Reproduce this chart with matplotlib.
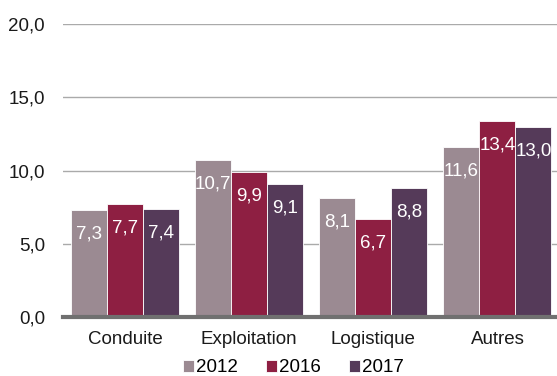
import numpy as np
import matplotlib.pyplot as plt

plt.rcParams["font.family"] = ["Liberation Sans", "DejaVu Sans"]

categories = ["Conduite", "Exploitation", "Logistique", "Autres"]
years = ["2012", "2016", "2017"]
v2012 = [7.3, 10.7, 8.1, 11.6]
v2016 = [7.7, 9.9, 6.7, 13.4]
v2017 = [7.4, 9.1, 8.8, 13.0]
colors = ["#9b8a92", "#8e1f42", "#553a59"]

fig = plt.figure(figsize=(5.57, 3.76), dpi=100)
ax = fig.add_axes([0.113, 0.157, 0.887, 0.779])

x = np.arange(len(categories))
w = 0.29
for i, (vals, c, yr) in enumerate(zip([v2012, v2016, v2017], colors, years)):
    bars = ax.bar(x + (i - 1) * w, vals, w, color=c, edgecolor="white",
                  linewidth=0.6, label=yr, zorder=3)
    for b, v in zip(bars, vals):
        ax.annotate(f"{v:.1f}".replace(".", ","),
                    (b.get_x() + b.get_width() / 2, v),
                    xytext=(0, -24), textcoords="offset pixels",
                    ha="center", va="center", color="white", fontsize=13.5, zorder=4)

ax.set_xlim(-0.5, 3.48)
ax.set_ylim(0, 20)
ax.set_yticks([0, 5, 10, 15, 20])
ax.set_yticklabels([f"{t:.1f}".replace(".", ",") for t in [0, 5, 10, 15, 20]])
ax.set_xticks(x)
ax.set_xticklabels(categories)
ax.tick_params(axis="both", length=0, labelsize=13.5, colors="#1a1a1a")
ax.tick_params(axis="y", pad=13)
ax.tick_params(axis="x", pad=10)
ax.grid(axis="y", color="#aaaaaa", linewidth=1, zorder=0)
for s in ["top", "right", "left"]:
    ax.spines[s].set_visible(False)
ax.spines["bottom"].set_color("#707070")
ax.spines["bottom"].set_linewidth(3)
ax.spines["bottom"].set_zorder(5)

fig.legend(*ax.get_legend_handles_labels(), loc="center",
           bbox_to_anchor=(0.527, 0.022), ncol=3, frameon=False, fontsize=13.5,
           handlelength=0.6, handleheight=0.6, handletextpad=0.1,
           columnspacing=1.5, borderpad=0)

fig.savefig("out.png", dpi=100)
